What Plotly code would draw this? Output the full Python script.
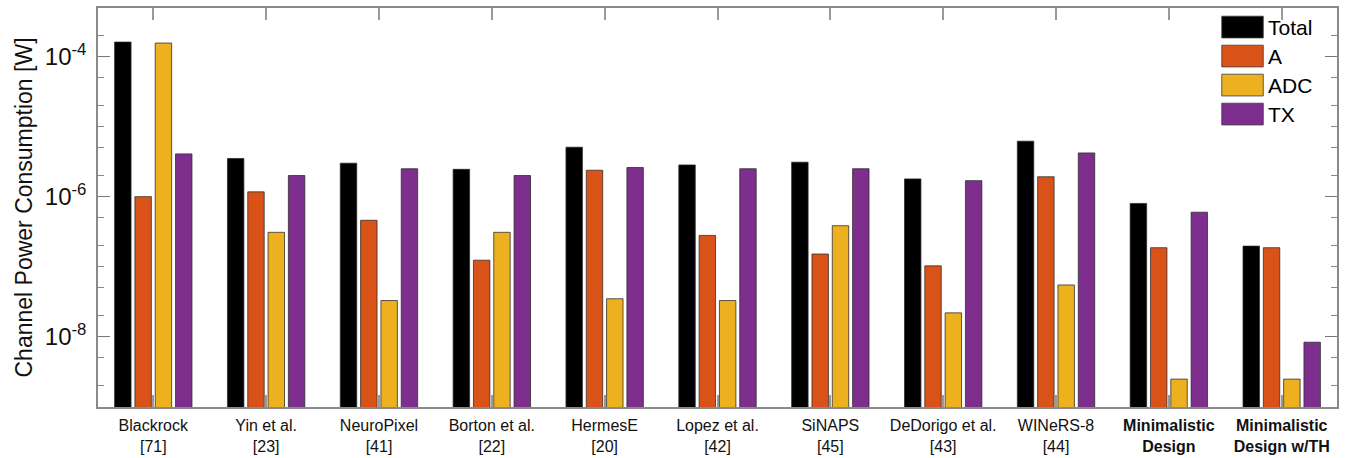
import plotly.graph_objects as go

categories = ["Blackrock<br>[71]", "Yin et al.<br>[23]", "NeuroPixel<br>[41]", "Borton et al.<br>[22]",
              "HermesE<br>[20]", "Lopez et al.<br>[42]", "SiNAPS<br>[45]", "DeDorigo et al.<br>[43]",
              "WINeRS-8<br>[44]", "<b>Minimalistic<br>Design</b>", "<b>Minimalistic<br>Design w/TH</b>"]

total = [1.6e-4, 3.5e-6, 3.0e-6, 2.45e-6, 5.07e-6, 2.83e-6, 3.1e-6, 1.79e-6, 6.18e-6, 8.0e-7, 1.97e-7]
a_pw = [1.0e-6, 1.17e-6, 4.6e-7, 1.24e-7, 2.38e-6, 2.8e-7, 1.52e-7, 1.03e-7, 1.92e-6, 1.87e-7, 1.87e-7]
adc = [1.55e-4, 3.1e-7, 3.3e-8, 3.1e-7, 3.5e-8, 3.3e-8, 3.85e-7, 2.2e-8, 5.5e-8, 2.5e-9, 2.5e-9]
tx = [4.07e-6, 2.0e-6, 2.5e-6, 2.0e-6, 2.6e-6, 2.5e-6, 2.5e-6, 1.69e-6, 4.2e-6, 6.0e-7, 8.4e-9]

series_names = ["Total", "A", "ADC", "TX"]
series_values = [total, a_pw, adc, tx]
series_colors = ["#000000", "#D95319", "#EDB120", "#7E2F8E"]

ytick_vals = [1e-8, 1e-6, 1e-4]
ytick_text = ["10<sup>-8</sup>", "10<sup>-6</sup>", "10<sup>-4</sup>"]

FONT = "Liberation Sans, Arial, Helvetica, sans-serif"
AXC = "#8a8a8a"

fig = go.Figure()
xs = list(range(len(categories)))
for name, vals, col in zip(series_names, series_values, series_colors):
    fig.add_trace(go.Bar(
        x=xs, y=vals, name=name,
        marker=dict(color=col, line=dict(color="rgba(40,40,40,0.75)", width=1)),
        showlegend=False,
    ))

# custom legend with large swatches (paper coordinates)
leg_x0, leg_x1 = 0.907, 0.9405
leg_top, row_h, sw_h = 0.9995, 0.0727, 0.0545
for i, (name, col) in enumerate(zip(series_names, series_colors)):
    y1 = leg_top - 0.02 - i * row_h
    y0 = y1 - sw_h
    fig.add_shape(type="rect", xref="paper", yref="paper", x0=leg_x0, x1=leg_x1, y0=y0, y1=y1,
                  fillcolor=col, line=dict(color="rgba(60,60,60,0.8)", width=1), layer="above")
    fig.add_annotation(xref="paper", yref="paper", x=leg_x1 + 0.002, y=(y0 + y1) / 2,
                       text=name, showarrow=False, xanchor="left", yanchor="middle",
                       font=dict(family=FONT, size=21, color="#000"))

fig.update_layout(
    width=1355, height=458,
    margin=dict(l=98, r=18, t=8, b=51, autoexpand=False),
    paper_bgcolor="white", plot_bgcolor="white",
    barmode="group", bargap=0.28, bargroupgap=0.19,
    font=dict(family=FONT, color="#000"),
)
fig.update_xaxes(
    range=[-0.49, 10.49], tickmode="array", tickvals=xs, ticktext=categories,
    ticks="inside", ticklen=12, tickcolor="#9a9a9a", tickwidth=1.5,
    showline=True, linecolor=AXC, linewidth=1.5, mirror="ticks",
    showgrid=False, zeroline=False, layer="below traces", automargin=False,
    ticklabelstandoff=3,
    tickfont=dict(family=FONT, size=16, color="#111"),
)
fig.update_yaxes(
    type="log", range=[-9, -3.31], tickmode="array", tickvals=ytick_vals, ticktext=ytick_text,
    ticks="inside", ticklen=12, tickcolor="#777", tickwidth=1,
    minor=dict(ticks="inside", ticklen=6, tickcolor="#888", showgrid=False),
    showline=True, linecolor=AXC, linewidth=1.5, mirror="ticks",
    showgrid=False, zeroline=False, automargin=False,
    ticklabelstandoff=5,
    tickfont=dict(family=FONT, size=24, color="#111"),
    title=dict(text="Channel Power Consumption [W]", font=dict(family=FONT, size=23, color="#111"), standoff=6),
)

fig.write_html("out.html", config={"displayModeBar": False},
               post_script="document.body.style.margin='0';document.body.style.overflow='hidden';")
